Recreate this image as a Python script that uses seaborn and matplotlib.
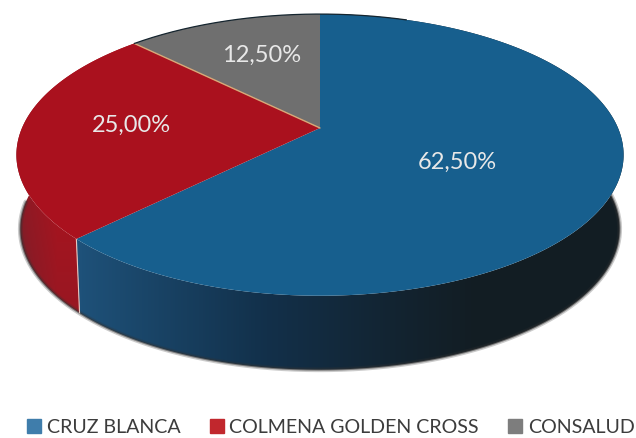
import numpy as np
import matplotlib
matplotlib.use('Agg')
import matplotlib.pyplot as plt
from matplotlib.patches import Polygon, Patch
import seaborn as sns

# datos
categorias = ['CRUZ BLANCA', 'COLMENA GOLDEN CROSS', 'CONSALUD']
porcentajes = [62.5, 25.0, 12.5]
etiquetas = ['62,50%', '25,00%', '12,50%']

colores_top = ['#175f8e', '#aa111e', '#6f6f6f']
colores_leyenda = ['#3f7dab', '#c1272d', '#7d7d7d']
pos_etiquetas = [(457, 162), (131, 125), (262, 55)]

sns.set_theme(style='white')
plt.rcParams['font.family'] = ['Lato', 'DejaVu Sans']

# vista 3D en pixeles
cx, cy = 320, 128
A, B, k = 298, 135.7, 0.191
alto = 74


def proyectar(xy):
    w = 1 + k * xy[:, 1]
    return np.column_stack([cx + A * xy[:, 0] / w, cy - B * xy[:, 1] / w])


def pared(pts):
    # borde inferior de la pared, un poco mas angosto
    return np.column_stack([cx + (pts[:, 0] - cx) * 0.987, pts[:, 1] + alto])


fig, ax = plt.subplots(figsize=(6.36, 4.38), dpi=100)
fig.subplots_adjust(0, 0, 1, 1)

# la torta base da los angulos de cada sector
wedges, _ = ax.pie(porcentajes, startangle=90, counterclock=False, colors=colores_top)
ax.set_aspect('auto')
ax.set_xlim(0, 636)
ax.set_ylim(438, 0)
ax.axis('off')

yy, xx = np.mgrid[0:438, 0:636]
cmap_azul = sns.blend_palette(['#121d23', '#12304a', '#1e5179'], as_cmap=True)
cmap_rojo = sns.blend_palette(['#5a2a30', '#8e1a25', '#a5141f'], as_cmap=True)
grad_azul = np.clip(1 - (xx - 80) / 400, 0, 1) ** 1.1
grad_rojo = np.clip((xx - 12) / 45, 0, 1) * 0.7 + np.clip((320 - yy) / 110, 0, 1) * 0.3

for i, w in enumerate(wedges):
    t1, t2 = sorted([w.theta1, w.theta2])
    ang = np.radians(np.linspace(t1, t2, 200))
    arco = proyectar(np.column_stack([np.cos(ang), np.sin(ang)]))
    w.set_visible(False)

    # pared lateral con degradado
    if i < 2:
        poly = Polygon(np.vstack([arco, pared(arco)[::-1]]), closed=True, fc='none', ec='none')
        ax.add_patch(poly)
        grad, cmap = (grad_azul, cmap_azul) if i == 0 else (grad_rojo, cmap_rojo)
        im = ax.imshow(grad, cmap=cmap, vmin=0, vmax=1, extent=(0, 636, 438, 0), aspect='auto', zorder=1)
        im.set_clip_path(poly)

# sombra suave en el borde inferior
ang = np.radians(np.linspace(-180, 5, 300))
base = pared(proyectar(np.column_stack([np.cos(ang), np.sin(ang)])))
ax.plot(base[:, 0], base[:, 1], color='#333333', lw=3.5, alpha=0.25, zorder=2)
ax.plot(base[:, 0], base[:, 1], color='#333333', lw=1.5, alpha=0.5, zorder=2)

# borde entre sectores en la pared
ang_borde = np.radians(225)
p = proyectar(np.array([[np.cos(ang_borde), np.sin(ang_borde)]]))
q = pared(p)
ax.plot([p[0, 0], q[0, 0]], [p[0, 1], q[0, 1]], color='#e8c8c0', lw=0.8, zorder=2)

# cara superior
for i, w in enumerate(wedges):
    t1, t2 = sorted([w.theta1, w.theta2])
    ang = np.radians(np.linspace(t1, t2, 200))
    arco = np.column_stack([np.cos(ang), np.sin(ang)])
    pts = proyectar(np.vstack([[0, 0], arco]))
    ax.add_patch(Polygon(pts, closed=True, fc=colores_top[i], ec='none', zorder=3))

# linea clara entre rojo y gris, linea oscura del borde trasero
ang = np.radians(135)
p = proyectar(np.array([[0, 0], [np.cos(ang), np.sin(ang)]]))
ax.plot(p[:, 0], p[:, 1], color='#d8a878', lw=1.0, zorder=4)
ang = np.radians(np.linspace(70, 135, 200))
p = proyectar(np.column_stack([np.cos(ang), np.sin(ang)]))
ax.plot(p[:, 0], p[:, 1], color='#15252f', lw=0.9, zorder=4)

for txt, (x, y) in zip(etiquetas, pos_etiquetas):
    ax.text(x, y, txt, color='#e8e8e8', fontsize=17, ha='center', va='center', zorder=5)

handles = [Patch(color=c, label=n) for c, n in zip(colores_leyenda, categorias)]
fig.legend(handles=handles, loc='lower center', bbox_to_anchor=(0.5204, 0.005), ncol=3, frameon=False,
           fontsize=14.1, labelcolor='#3c3c3c', handlelength=0.7, handleheight=0.7,
           handletextpad=0.3, columnspacing=1.5, borderaxespad=0, borderpad=0)

fig.savefig('out.png', dpi=100)
